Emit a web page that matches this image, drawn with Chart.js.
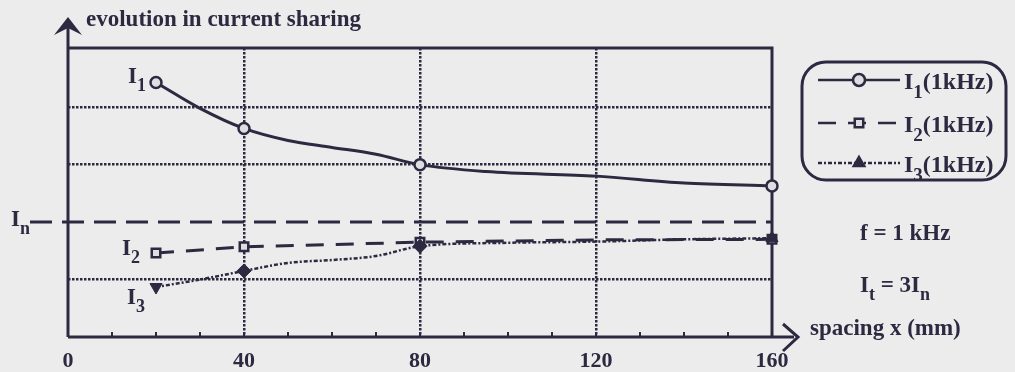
<!DOCTYPE html>
<html>
<head>
<meta charset="utf-8">
<script src="https://cdn.jsdelivr.net/npm/chart.js@4.4.0/dist/chart.umd.min.js"></script>
<style>
  body { margin: 0; background: #ececec; }
  #wrap { width: 1015px; height: 372px; position: relative; }
</style>
</head>
<body>
<div id="wrap"><canvas id="sharing" width="1015" height="372"></canvas></div>
<script>
  // values (y in units of the dotted grid, In = 2)
  let xTicks = [0, 40, 80, 120, 160]
  let inLevel = 2

  let i1X = [20, 30, 40, 50, 60, 70, 80, 95, 120, 140, 160]
  let i1Vals = [4.43, 3.98, 3.63, 3.42, 3.30, 3.18, 3.0, 2.88, 2.80, 2.68, 2.63]
  let i1Marks = [20, 40, 80, 160]

  let i2X = [20, 40, 80, 120, 160]
  let i2Vals = [1.46, 1.57, 1.65, 1.69, 1.70]
  let i2Marks = [20, 40, 80, 160]

  let i3X = [20, 30, 40, 50, 60, 70, 80, 100, 120, 140, 160]
  let i3Vals = [0.87, 1.0, 1.15, 1.29, 1.34, 1.41, 1.58, 1.64, 1.66, 1.70, 1.72]
  let i3Marks = [20, 40, 80, 160]

  let ink = '#2d2940'
  let paper = '#dedde2'
  let serif = '"Liberation Serif", "DejaVu Serif", serif'

  Chart.defaults.font.family = serif
  Chart.defaults.color = ink

  function pts(xs, vals) {
    return xs.map((x, i) => ({ x: x, y: vals[i] }))
  }
  function radii(xs, marks, r) {
    return xs.map(x => marks.includes(x) ? r : 0)
  }

  // text with subscripts: parts = [[text, sub?], ...]
  function subText(ctx, parts, x, y, size) {
    let cx = x
    parts.forEach(p => {
      if (p[1]) {
        ctx.font = 'bold ' + Math.round(size * 0.78) + 'px ' + serif
        ctx.fillText(p[0], cx, y + size * 0.36)
      } else {
        ctx.font = 'bold ' + size + 'px ' + serif
        ctx.fillText(p[0], cx, y)
      }
      cx += ctx.measureText(p[0]).width
    })
  }

  let frame = {
    id: 'frame',
    beforeDatasetsDraw(chart) {
      let ctx = chart.ctx
      let a = chart.chartArea
      let xs = chart.scales.x
      let ys = chart.scales.y
      ctx.save()
      ctx.strokeStyle = ink
      ctx.fillStyle = ink
      ctx.lineCap = 'butt'

      // In reference line
      let yIn = ys.getPixelForValue(inLevel)
      ctx.lineWidth = 3
      ctx.setLineDash([22, 10])
      ctx.beginPath()
      ctx.moveTo(30, yIn)
      ctx.lineTo(a.right, yIn)
      ctx.stroke()
      ctx.setLineDash([])

      // box top + right
      ctx.lineWidth = 3
      ctx.beginPath()
      ctx.moveTo(a.left, a.top)
      ctx.lineTo(a.right, a.top)
      ctx.lineTo(a.right, a.bottom)
      ctx.stroke()

      // axes with arrows
      ctx.beginPath()
      ctx.moveTo(a.left, a.bottom)
      ctx.lineTo(a.left, 22)
      ctx.moveTo(a.left, a.bottom)
      ctx.lineTo(794, a.bottom)
      ctx.stroke()
      ctx.beginPath()
      ctx.moveTo(a.left, 17)
      ctx.lineTo(a.left + 14, 35)
      ctx.lineTo(a.left, 28)
      ctx.lineTo(a.left - 14, 35)
      ctx.closePath()
      ctx.fill()
      ctx.lineWidth = 3
      ctx.beginPath()
      ctx.moveTo(783, a.bottom - 13)
      ctx.lineTo(798, a.bottom)
      ctx.lineTo(783, a.bottom + 14)
      ctx.stroke()

      // minor ticks every 10 mm
      ctx.lineWidth = 2
      for (let v = 10; v < 160; v += 10) {
        let px = xs.getPixelForValue(v)
        ctx.beginPath()
        ctx.moveTo(px, a.bottom)
        ctx.lineTo(px, a.bottom - 5)
        ctx.stroke()
      }
      ctx.restore()
    },
    afterDraw(chart) {
      let ctx = chart.ctx
      let ys = chart.scales.y
      ctx.save()
      ctx.fillStyle = ink
      ctx.strokeStyle = ink
      ctx.textBaseline = 'alphabetic'

      ctx.font = 'bold 23px ' + serif
      ctx.fillText('evolution in current sharing', 86, 26)
      ctx.fillText('spacing x (mm)', 810, 335)
      ctx.fillText('f = 1 kHz', 860, 240)
      subText(ctx, [['I', 0], ['t', 1], [' = 3I', 0], ['n', 1]], 860, 292, 23)

      subText(ctx, [['I', 0], ['1', 1]], 128, 83, 23)
      subText(ctx, [['I', 0], ['2', 1]], 122, 255, 23)
      subText(ctx, [['I', 0], ['3', 1]], 127, 304, 23)
      subText(ctx, [['I', 0], ['n', 1]], 11, ys.getPixelForValue(inLevel) + 4, 23)

      // legend box
      ctx.lineWidth = 3
      ctx.beginPath()
      ctx.roundRect(802, 62, 204, 118, 24)
      ctx.stroke()

      let rows = [
        { y: 80, dash: [], style: 'circle', rot: 0, fill: paper, name: '1' },
        { y: 123, dash: [18, 12], style: 'rect', rot: 0, fill: paper, name: '2' },
        { y: 163, dash: [4, 2, 2, 2], style: 'triangle', rot: 0, fill: ink, name: '3' }
      ]
      rows.forEach(r => {
        ctx.lineWidth = 2.5
        ctx.setLineDash(r.dash)
        ctx.beginPath()
        ctx.moveTo(818, r.y)
        ctx.lineTo(900, r.y)
        ctx.stroke()
        ctx.setLineDash([])
        ctx.fillStyle = r.fill
        Chart.helpers.drawPoint(ctx, { pointStyle: r.style, radius: 6, rotation: r.rot, borderWidth: 2.5 }, 859, r.y)
        ctx.fillStyle = ink
        subText(ctx, [['I', 0], [r.name, 1], ['(1kHz)', 0]], 904, r.y + 9, 24)
      })
      ctx.restore()
    }
  }

  let chart = new Chart(document.getElementById('sharing').getContext('2d'), {
    type: 'line',
    data: {
      datasets: [{
        label: 'I1(1kHz)',
        data: pts(i1X, i1Vals),
        order: 1,
        clip: false,
        borderColor: ink,
        borderWidth: 3,
        cubicInterpolationMode: 'monotone',
        pointStyle: 'circle',
        pointRadius: radii(i1X, i1Marks, 5.5),
        pointBackgroundColor: paper,
        pointBorderColor: ink,
        pointBorderWidth: 2.5
      }, {
        label: 'I2(1kHz)',
        data: pts(i2X, i2Vals),
        order: 2,
        clip: false,
        borderColor: ink,
        borderWidth: 3,
        borderDash: [18, 12],
        pointStyle: 'rect',
        pointRadius: radii(i2X, i2Marks, 6),
        pointBackgroundColor: paper,
        pointBorderColor: ink,
        pointBorderWidth: 2.5
      }, {
        label: 'I3(1kHz)',
        data: pts(i3X, i3Vals),
        order: 0,
        clip: false,
        borderColor: ink,
        borderWidth: 2.5,
        borderDash: [4, 2, 2, 2],
        cubicInterpolationMode: 'monotone',
        pointStyle: i3X.map(x => x === 20 || x === 160 ? 'triangle' : 'rectRot'),
        pointRotation: i3X.map(x => x === 20 ? 180 : 0),
        pointRadius: radii(i3X, i3Marks, 7),
        pointBackgroundColor: ink,
        pointBorderColor: ink,
        pointBorderWidth: 1
      }]
    },
    options: {
      responsive: false,
      animation: false,
      events: [],
      layout: { padding: { left: 0, top: 48, right: 243, bottom: 0 } },
      plugins: { legend: { display: false }, tooltip: { enabled: false } },
      scales: {
        x: {
          type: 'linear',
          min: 0,
          max: 160,
          afterFit: s => { s.height = 35 },
          ticks: {
            stepSize: 10,
            autoSkip: false,
            maxRotation: 0,
            padding: 11,
            color: ink,
            font: { size: 22, weight: 'bold' },
            callback: v => xTicks.includes(v) ? v : ''
          },
          grid: {
            drawTicks: false,
            lineWidth: 2.5,
            color: c => (c.tick && c.tick.value % 40 === 0 && c.tick.value > 0 && c.tick.value < 160) ? ink : 'transparent'
          },
          border: { display: false, dash: [2.5, 1.5] }
        },
        y: {
          min: 0,
          max: 5.03,
          afterFit: s => { s.width = 68 },
          ticks: { stepSize: 1, display: false },
          grid: {
            drawTicks: false,
            lineWidth: 2.5,
            color: c => (c.tick && [1, 3, 4].includes(c.tick.value)) ? ink : 'transparent'
          },
          border: { display: false, dash: [2.5, 1.5] }
        }
      }
    },
    plugins: [frame]
  })
</script>
</body>
</html>
